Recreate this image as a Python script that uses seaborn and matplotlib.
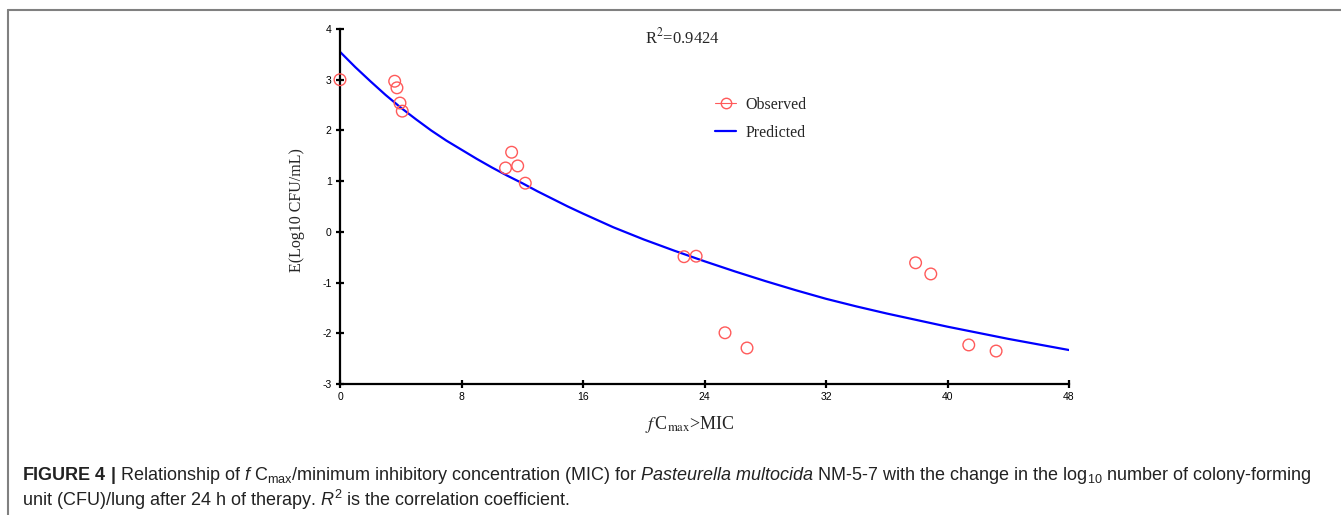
import matplotlib
matplotlib.use("Agg")
import matplotlib.pyplot as plt
from matplotlib.lines import Line2D
from matplotlib import font_manager
import seaborn as sns
import pandas as pd

# observed points
obs_x = [0.0, 3.6, 3.75, 3.95, 4.1, 11.3, 10.9, 11.7, 12.2, 22.65, 23.45, 25.35, 26.8, 37.9, 38.9, 41.4, 43.2]
obs_y = [3.0, 2.97, 2.84, 2.54, 2.38, 1.57, 1.26, 1.30, 0.96, -0.49, -0.48, -1.99, -2.29, -0.61, -0.83, -2.23, -2.35]

# predicted curve
pred_x = [0, 1, 2, 3, 4, 5, 6, 7, 8, 9, 10, 11, 12, 13, 14, 15, 16, 18, 20, 22, 24,
          26, 28, 30, 32, 34, 36, 38, 40, 42, 44, 46, 48]
pred_y = [3.55, 3.25, 2.97, 2.70, 2.45, 2.22, 2.00, 1.80, 1.62, 1.44, 1.27, 1.11, 0.96,
          0.80, 0.65, 0.50, 0.36, 0.09, -0.15, -0.37, -0.58, -0.78, -0.97, -1.15, -1.32,
          -1.47, -1.61, -1.74, -1.87, -1.99, -2.11, -2.22, -2.33]

x_ticks = [0, 8, 16, 24, 32, 40, 48]
y_ticks = [-3, -2, -1, 0, 1, 2, 3, 4]

sns.set_style("ticks")
serif = "Liberation Serif"
names = {f.name for f in font_manager.fontManager.ttflist}
cap_font = "Liberation Sans Narrow" if "Liberation Sans Narrow" in names else "Liberation Sans"
plt.rcParams["font.family"] = ["Liberation Sans", "DejaVu Sans"]
plt.rcParams["axes.unicode_minus"] = False
plt.rcParams["mathtext.fontset"] = "custom"
plt.rcParams["mathtext.rm"] = cap_font
plt.rcParams["mathtext.it"] = cap_font + ":italic"
plt.rcParams["mathtext.bf"] = cap_font + ":bold"

obs = pd.DataFrame({"x": obs_x, "y": obs_y})
pred = pd.DataFrame({"x": pred_x, "y": pred_y})

fig = plt.figure(figsize=(13.41, 5.15), dpi=100)
ax = fig.add_axes([340 / 1341, 1 - 384 / 515, 729 / 1341, 355 / 515])

sns.lineplot(data=pred, x="x", y="y", ax=ax, color="#0000ff", linewidth=1.6, sort=True)
sns.scatterplot(data=obs, x="x", y="y", ax=ax, marker="o", s=70,
                facecolor="none", edgecolor="#ff5a5a", linewidth=1.0, zorder=3, clip_on=False)

ax.set_xlim(0, 48)
ax.set_ylim(-3, 4)
ax.set_xticks(x_ticks)
ax.set_yticks(y_ticks)
for s in ["top", "right"]:
    ax.spines[s].set_visible(False)
for s in ["left", "bottom"]:
    ax.spines[s].set_color("black")
    ax.spines[s].set_linewidth(1.6)
ax.tick_params(bottom=True, left=True, direction="inout", length=6, width=1.6,
               labelsize=7.5, colors="black", pad=3)

ax.set_xlabel(r"$f\,$C$_{\mathrm{max}}$>MIC", fontsize=13, family=serif, math_fontfamily="stix")
ax.xaxis.set_label_coords(0.48, -0.085)
ax.set_ylabel("E(Log10 CFU/mL)", fontsize=11.5, family=serif)
ax.yaxis.set_label_coords(-0.048, 0.49)

fig.text(682 / 1341, 1 - 37 / 515, r"R$^2$=0.9424", fontsize=12, family=serif,
         math_fontfamily="stix", ha="center", va="center")

handles = [
    Line2D([], [], color="#ff5a5a", lw=0.8, marker="o", markersize=7.5,
           markerfacecolor="none", markeredgecolor="#ff5a5a"),
    Line2D([], [], color="#0000ff", lw=1.6),
]
ax.legend(handles, ["Observed", "Predicted"], loc="upper left", bbox_to_anchor=(0.495, 0.85),
          frameon=False, prop={"family": serif, "size": 11.5}, handlelength=1.3,
          handletextpad=0.6, labelspacing=0.75)

# frame around the figure panel
fig.add_artist(Line2D([8 / 1341, 1], [1 - 10 / 515, 1 - 10 / 515], color="#808080", lw=1.5))
fig.add_artist(Line2D([8 / 1341, 8 / 1341], [0, 1 - 10 / 515], color="#808080", lw=1.5))

cap1 = (r"$\mathbf{FIGURE\ 4\ |}$ Relationship of $\mathit{f}$ C$_{\mathrm{max}}$/minimum inhibitory "
        r"concentration (MIC) for $\mathit{Pasteurella\ multocida}$ NM-5-7 with the change in the "
        r"log$_{10}$ number of colony-forming")
cap2 = r"unit (CFU)/lung after 24 h of therapy. $\mathit{R}^{2}$ is the correlation coefficient."
fig.text(22 / 1341, 1 - 476 / 515, cap1, fontsize=13, family=cap_font, color="#222222",
         va="center", ha="left", math_fontfamily="custom")
fig.text(22 / 1341, 1 - 500 / 515, cap2, fontsize=13, family=cap_font, color="#222222",
         va="center", ha="left", math_fontfamily="custom")

fig.savefig("out.png", dpi=100)
